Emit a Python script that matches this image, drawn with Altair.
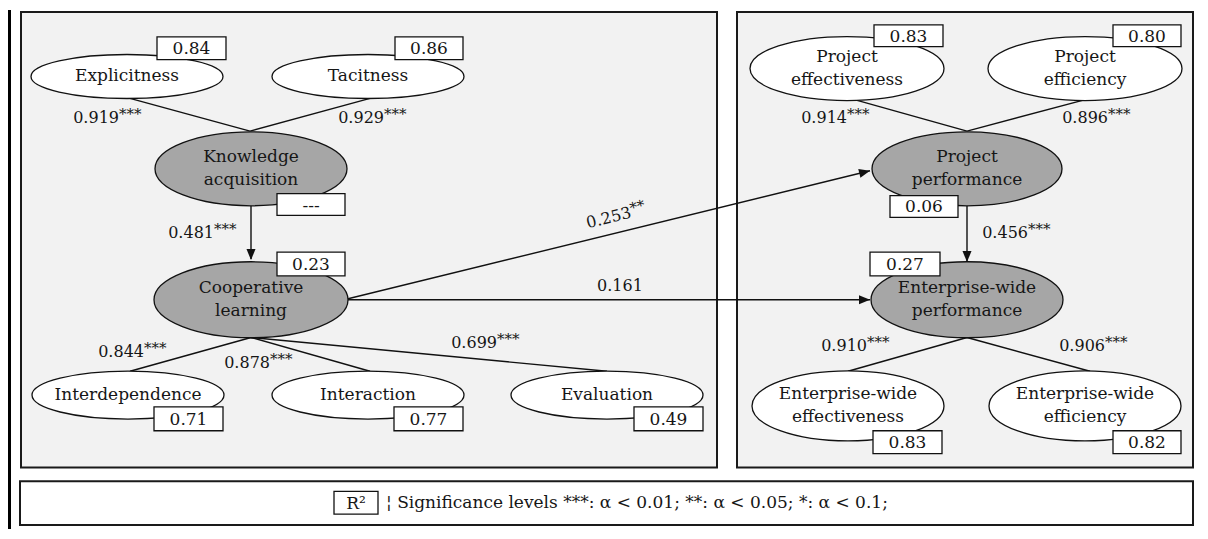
import altair as alt
import pandas as pd

FONT = "DejaVu Serif"

# ---------------- nodes (constructs) ----------------
node_label = ["Explicitness", "Tacitness", "Knowledge\nacquisition", "Cooperative\nlearning",
              "Interdependence", "Interaction", "Evaluation",
              "Project\neffectiveness", "Project\nefficiency", "Project\nperformance",
              "Enterprise-wide\nperformance", "Enterprise-wide\neffectiveness", "Enterprise-wide\nefficiency"]
node_x = [127, 368, 251, 251, 128, 368, 607, 847, 1085, 967, 967, 848, 1085]
node_y = [75, 75, 168, 300, 396, 396, 396, 67, 67, 168, 300, 407, 407]
node_rx = [96, 96, 96, 97, 96, 96, 96, 97, 97, 95, 96, 96, 96]
node_ry = [22, 22, 37, 38, 24, 24, 24, 32, 32, 37, 38, 35, 35]
node_latent = [False, False, True, True, False, False, False, False, False, True, True, False, False]

# ---------------- R² boxes ----------------
box_text = ["0.84", "0.86", "---", "0.23", "0.71", "0.77", "0.49",
            "0.83", "0.80", "0.06", "0.27", "0.83", "0.82", "R²"]
box_x1 = [157, 395, 277, 277, 154, 394, 634, 874, 1113, 890, 870, 873, 1113, 334]
box_x2 = [226, 463, 345, 345, 223, 463, 703, 943, 1181, 958, 940, 942, 1181, 378]
box_y1 = [35, 35, 193, 252, 408, 408, 408, 23, 23, 195, 252, 432, 432, 493]
box_y2 = [58, 58, 215, 276, 432, 432, 432, 45, 45, 217, 276, 455, 455, 516]

# ---------------- connecting lines ----------------
line_x1 = [130, 370, 251, 251, 251, 251, 850, 1090, 967, 967, 967, 348, 348]
line_y1 = [97, 97, 205, 338, 338, 338, 97, 97, 205, 338, 338, 299, 300]
line_x2 = [250, 250, 251, 130, 370, 607, 967, 967, 967, 848, 1090, 870, 870]
line_y2 = [130, 130, 259, 372, 372, 372, 130, 130, 261, 372, 372, 170, 300]

# arrow heads (tip position and direction, degrees clockwise from up)
arrow_x = [251, 967, 870, 870]
arrow_y = [260, 262, 170, 300]
arrow_angle = [180, 180, 76, 90]

# ---------------- path coefficients ----------------
coef_value = ["0.919", "0.929", "0.481", "0.844", "0.878", "0.699",
              "0.914", "0.896", "0.456", "0.910", "0.906"]
coef_stars = ["***"] * 11
coef_x = [119, 384, 214, 144, 270, 497, 847, 1108, 1028, 867, 1105]
coef_y = [117, 117, 233, 353, 364, 344, 117, 117, 233, 347, 347]

# ---------------- panels ----------------
panel_x1 = [21, 737, 20]
panel_x2 = [717, 1193, 1193]
panel_y1 = [10, 10, 483]
panel_y2 = [469, 469, 527]
panel_fill = ["#f2f2f2", "#f2f2f2", "#ffffff"]

legend_text = "¦ Significance levels ***: α < 0.01; **: α < 0.05; *: α < 0.1;"

# ---------------------------------------------------------
XS = alt.Scale(domain=[8, 1200], nice=False, zero=False)
YS = alt.Scale(domain=[8, 531], nice=False, zero=False, reverse=True)

K = 0.5523


def ellipse_path(rx, ry):
    kx, ky = K * rx, K * ry
    return (f"M {-rx} 0 C {-rx} {-ky} {-kx} {-ry} 0 {-ry} "
            f"C {kx} {-ry} {rx} {-ky} {rx} 0 "
            f"C {rx} {ky} {kx} {ry} 0 {ry} "
            f"C {-kx} {ry} {-rx} {ky} {-rx} 0 Z")


nodes = pd.DataFrame({
    "label": node_label, "x": node_x, "y": node_y,
    "path": [ellipse_path(a, b) for a, b in zip(node_rx, node_ry)],
    "fill": ["#a6a6a6" if l else "#ffffff" for l in node_latent],
})
nodes["two"] = nodes["label"].str.contains("\n")
boxes = pd.DataFrame({"text": box_text, "x": box_x1, "x2": box_x2, "y": box_y1, "y2": box_y2})
boxes["cx"] = (boxes["x"] + boxes["x2"]) / 2
boxes["cy"] = (boxes["y"] + boxes["y2"]) / 2
lines = pd.DataFrame({"x": line_x1, "y": line_y1, "x2": line_x2, "y2": line_y2})
arrows = pd.DataFrame({"x": arrow_x, "y": arrow_y, "a": arrow_angle})
coefs = pd.DataFrame({"v": coef_value, "s": coef_stars, "x": coef_x, "y": coef_y})
panels = pd.DataFrame({"x": panel_x1, "x2": panel_x2, "y": panel_y1, "y2": panel_y2, "fill": panel_fill})

X = lambda f="x": alt.X(f"{f}:Q", scale=XS, axis=None)
Y = lambda f="y": alt.Y(f"{f}:Q", scale=YS, axis=None)
INK = "#161616"

panel_layer = alt.Chart(panels).mark_rect(stroke="#1a1a1a", strokeWidth=2).encode(
    x=X(), x2="x2:Q", y=Y(), y2="y2:Q", fill=alt.Fill("fill:N", scale=None))

outer_left = alt.Chart(pd.DataFrame({"x": [9.5], "y": [8], "y2": [531]})).mark_rule(
    color="black", strokeWidth=3).encode(x=X(), y=Y(), y2="y2:Q")

line_layer = alt.Chart(lines).mark_rule(color="#111", strokeWidth=1.4).encode(
    x=X(), y=Y(), x2="x2:Q", y2="y2:Q")

ellipse_layer = alt.Chart(nodes).mark_point(filled=True, opacity=1, stroke="#111",
                                            strokeWidth=1.3, size=4).encode(
    x=X(), y=Y(), shape=alt.Shape("path:N", scale=None), fill=alt.Fill("fill:N", scale=None))

arrow_layer = alt.Chart(arrows).mark_point(filled=True, opacity=1, color="#111", size=4,
                                           shape="M 0 0 L -4.5 11 L 4.5 11 Z").encode(
    x=X(), y=Y(), angle=alt.Angle("a:Q", scale=None))

node_text1 = alt.Chart(nodes).transform_filter("!datum.two").mark_text(
    font=FONT, fontSize=17, baseline="middle", align="center", color=INK).encode(
    x=X(), y=Y(), text="label:N")
node_text2 = alt.Chart(nodes).transform_filter("datum.two").mark_text(
    font=FONT, fontSize=17, lineBreak="\n", lineHeight=23, dy=-11.5,
    baseline="middle", align="center", color=INK).encode(
    x=X(), y=Y(), text="label:N")

box_layer = alt.Chart(boxes).mark_rect(fill="white", stroke="#111", strokeWidth=1.3).encode(
    x=X(), x2="x2:Q", y=Y(), y2="y2:Q")

box_text_layer = alt.Chart(boxes).mark_text(font=FONT, fontSize=17, baseline="middle",
                                            align="center", color=INK, dy=1).encode(
    x=X("cx"), y=Y("cy"), text="text:N")

coef_num = alt.Chart(coefs).mark_text(font=FONT, fontSize=16, baseline="middle", align="right",
                                      color=INK).encode(x=X(), y=Y(), text="v:N")
coef_star = alt.Chart(coefs).mark_text(font=FONT, fontSize=15, baseline="middle", align="left",
                                       color=INK, dy=-4).encode(x=X(), y=Y(), text="s:N")

# rotated coefficient on the path to project performance
rot = pd.DataFrame({"v": ["0.253"], "s": ["**"], "x": [631], "y": [212]})
rot_num = alt.Chart(rot).mark_text(font=FONT, fontSize=16, baseline="middle", align="right",
                                   angle=346, color=INK).encode(x=X(), y=Y(), text="v:N")
rot_star = alt.Chart(rot).mark_text(font=FONT, fontSize=15, baseline="middle", align="left",
                                    angle=346, dy=-4, color=INK).encode(x=X(), y=Y(), text="s:N")

plain = pd.DataFrame({"t": ["0.161"], "x": [620], "y": [286]})
plain_text = alt.Chart(plain).mark_text(font=FONT, fontSize=16, baseline="middle", align="center",
                                        color=INK).encode(x=X(), y=Y(), text="t:N")

leg = pd.DataFrame({"t": [legend_text], "x": [386], "y": [505]})
legend_layer = alt.Chart(leg).mark_text(font=FONT, fontSize=17, baseline="middle", align="left",
                                        color=INK).encode(x=X(), y=Y(), text="t:N")

chart = alt.layer(
    panel_layer, outer_left, line_layer, ellipse_layer, arrow_layer, node_text1, node_text2,
    box_layer, box_text_layer, coef_num, coef_star, rot_num, rot_star, plain_text, legend_layer
).properties(
    width=1192, height=523, padding=0,
    autosize=alt.AutoSizeParams(type="fit", contains="padding"),
    background="white",
).configure_view(stroke=None)

chart.save("out.html", embed_options={"renderer": "svg", "actions": False})
